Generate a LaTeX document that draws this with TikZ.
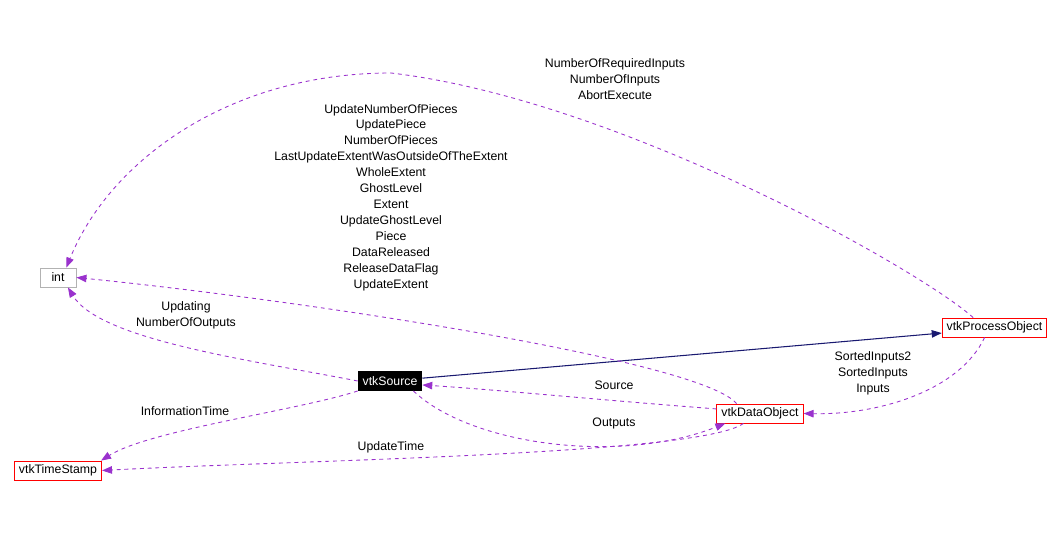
\documentclass[tikz,border=0pt]{standalone}
\usepackage{fontspec}
\setmainfont{Liberation Sans}
\usetikzlibrary{arrows.meta}
\definecolor{relpurple}{HTML}{9A32CD}
\definecolor{relnavy}{HTML}{191970}
\tikzset{
  cls/.style={draw=red,fill=white,line width=0.5pt,inner xsep=0.09cm,
    inner ysep=0pt,minimum height=0.38cm},
  ext/.style={cls,draw=black!30},
  focus/.style={cls,draw=black,fill=black,text=white},
  use/.style={draw=relpurple,line width=0.5pt,dash pattern=on 2.2pt off 2.2pt,
    -{Triangle[length=0.2cm,width=0.15cm,fill=relpurple]}},
  inherit/.style={draw=relnavy,line width=0.6pt,
    -{Triangle[length=0.2cm,width=0.15cm,fill=relnavy]}},
  lbl/.style={align=center,inner sep=0pt}
}
\begin{document}
\begin{tikzpicture}[x=0.02cm,y=-0.02cm,font=\fontsize{7}{9.07}\selectfont]
\useasboundingbox (0,0) rectangle (1061,533);
% classes
\node[ext,minimum width=0.72cm] (int) at (58,277.5) {int};
\node[focus] (src) at (390,381) {vtkSource};
\node[cls] (ts) at (58,470.5) {vtkTimeStamp};
\node[cls] (dobj) at (760,413.5) {vtkDataObject};
\node[cls] (pobj) at (994.5,327.5) {vtkProcessObject};
% member labels
\node[lbl] (lpobj) at (615,79) {NumberOfRequiredInputs\\NumberOfInputs\\AbortExecute};
\node[lbl] (ldobj) at (391,197.5) {UpdateNumberOfPieces\\UpdatePiece\\NumberOfPieces\\
  LastUpdateExtentWasOutsideOfTheExtent\\WholeExtent\\GhostLevel\\Extent\\
  UpdateGhostLevel\\Piece\\DataReleased\\ReleaseDataFlag\\UpdateExtent};
\node[lbl] (lsrc) at (186,315) {Updating\\NumberOfOutputs};
\node[lbl] (linfo) at (185,411) {InformationTime};
\node[lbl] (lsource) at (614,385) {Source};
\node[lbl] (loutputs) at (614,423) {Outputs};
\node[lbl] (linputs) at (873,373) {SortedInputs2\\SortedInputs\\Inputs};
\node[lbl] (lupdate) at (391,447) {UpdateTime};
% relations
\draw[inherit] (src.5) -- (pobj.186);
\draw[use] (pobj.155) .. controls (920,270) and (620,100) .. (391,73)
  .. controls (230,73) and (110,160) .. (int.50);
\draw[use] (dobj.157) .. controls (700,360) and (300,300) .. (int.east);
\draw[use] (src.west) .. controls (250,360) and (100,340) .. (int.-45);
\draw[use] (dobj.174) .. controls (600,400) and (500,390) .. (src.-7);
\draw[use] (src.-23) .. controls (470,445) and (620,465) .. (dobj.196);
\draw[use] (pobj.-135) .. controls (960,390) and (880,415) .. (dobj.east);
\draw[use] (src.south west) .. controls (300,410) and (150,430) .. (ts.13);
\draw[use] (dobj.211) .. controls (700,455) and (300,460) .. (ts.east);
\end{tikzpicture}
\end{document}
